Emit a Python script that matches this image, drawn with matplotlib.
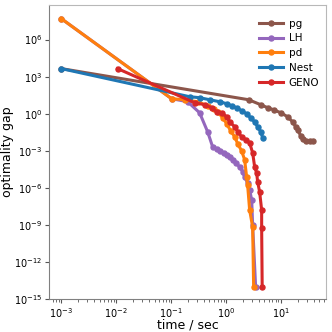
import numpy as np
from matplotlib import pyplot as plt

# pg
pg_t = [1e-3, 2.58, 4.27, 5.72, 7.36, 9.9, 13.2, 16.3, 18.5, 20.1, 22.9, 24.8, 28.2, 33.3, 37.8]
pg_gap = [4.5e3, 13.6, 5.4, 3.07, 2.1, 1.2, 0.57, 0.22, 0.088, 0.050, 0.016, 0.0094, 0.0065, 0.0065, 0.0065]

# LH
lh_t = [1e-3, 0.102, 0.200, 0.330, 0.462, 0.570, 0.674, 0.764, 0.904, 1.03, 1.16, 1.32,
        1.50, 1.77, 2.01, 2.18, 2.47, 2.69, 2.93, 3.05, 3.46]
lh_gap = [5.0e7, 16.5, 9.4, 1.2, 0.035, 2.1e-3, 1.45e-3, 1e-3, 6.9e-4, 4.7e-4, 3.3e-4, 1.9e-4,
          1.07e-4, 5.0e-5, 2.0e-5, 7.8e-6, 2.5e-6, 6.9e-7, 1.07e-7, 1e-9, 9.3e-15]

# pd
pd_t = [1e-3, 0.102, 0.176, 0.304, 0.462, 0.594, 0.703, 0.867, 1.03, 1.21, 1.44, 1.63,
        1.92, 2.18, 2.37, 2.47, 2.69, 3.05, 3.18]
pd_gap = [5.0e7, 16.5, 13.6, 9.4, 4.5, 2.5, 1.45, 0.47, 0.155, 0.042, 0.0136, 0.0037,
          1e-3, 1.9e-4, 7.8e-6, 1.7e-6, 1.6e-8, 6.9e-10, 9.3e-15]

# Nest
nest_t = [1e-3, 0.217, 0.330, 0.503, 0.764, 1.03, 1.26, 1.56, 1.92, 2.37, 2.80, 3.32, 3.76, 4.27, 4.64]
nest_gap = [4.5e3, 23.9, 19.9, 13.6, 9.4, 6.5, 4.5, 3.07, 1.75, 1.0, 0.47, 0.22, 0.088, 0.035, 0.0113]

# GENO
geno_t = [0.0106, 0.268, 0.408, 0.547, 0.674, 0.832, 1.03, 1.16, 1.44, 1.63, 1.92, 2.28,
          2.69, 3.05, 3.32, 3.61, 3.76, 4.09, 4.45, 4.45, 4.55]
geno_gap = [4.5e3, 7.8, 5.4, 3.07, 1.45, 1.2, 0.57, 0.22, 0.088, 0.035, 0.0136, 0.0078,
            0.0044, 6.9e-4, 5.0e-5, 1.6e-5, 3.1e-6, 4.7e-7, 1.6e-8, 5.7e-10, 9.3e-15]

series = [
    ("pg", pg_t, pg_gap, "#8c564b"),
    ("LH", lh_t, lh_gap, "#9467bd"),
    ("pd", pd_t, pd_gap, "#ff7f0e"),
    ("Nest", nest_t, nest_gap, "#1f77b4"),
    ("GENO", geno_t, geno_gap, "#d62728"),
]

fig = plt.figure(figsize=(3.32, 3.32), dpi=100)
ax = fig.add_axes([0.148, 0.099, 0.834, 0.886])

for name, t, g, c in series:
    ax.plot(t, g, "-o", color=c, lw=2.2, ms=3.6, label=name)

ax.set_xscale("log")
ax.set_yscale("log")
ax.set_xlim(10**-3.22, 10**1.82)
ax.set_ylim(1e-15, 10**8.8)
ax.set_yticks([1e-15, 1e-12, 1e-9, 1e-6, 1e-3, 1e0, 1e3, 1e6])
ax.yaxis.set_minor_locator(plt.NullLocator())
ax.tick_params(which="both", labelsize=7, colors="#555555", labelcolor="black", pad=2)
ax.tick_params(which="major", length=3)
ax.tick_params(which="minor", length=1.8)
ax.set_xlabel("time / sec", fontsize=9, labelpad=-1)
ax.set_ylabel("optimality gap", fontsize=9, labelpad=0)

for s in ["left", "bottom"]:
    ax.spines[s].set_color("#808080")
for s in ["top", "right"]:
    ax.spines[s].set_color("#b8b8b8")

ax.legend(loc="upper right", frameon=False, fontsize=7.5, handlelength=2.3,
          handletextpad=0.6, labelspacing=0.45, bbox_to_anchor=(1.01, 0.985))

fig.savefig("out.png", dpi=100)
